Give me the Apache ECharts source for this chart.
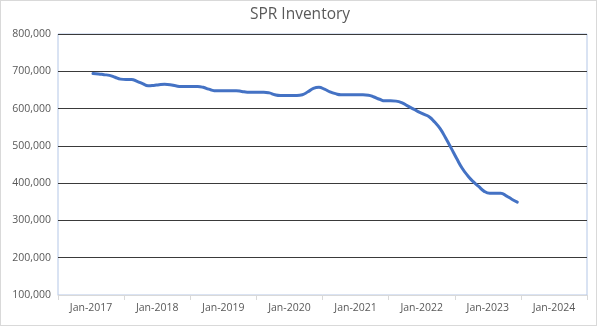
<!DOCTYPE html>
<html>
<head>
<meta charset="utf-8">
<script src="https://cdn.jsdelivr.net/npm/echarts@6/dist/echarts.min.js"></script>
<style>
html,body{margin:0;padding:0;background:#fff;}
#frame{position:absolute;left:0;top:0;width:597px;height:326px;border:1px solid #d9d9d9;box-sizing:border-box;pointer-events:none;z-index:2;}
#c{position:absolute;left:0;top:0;width:600px;height:327px;}
</style>
</head>
<body>
<div id="c"></div>
<div id="frame"></div>
<script>
const title = 'SPR Inventory';
const yearLabels = ['Jan-2017','Jan-2018','Jan-2019','Jan-2020','Jan-2021','Jan-2022','Jan-2023','Jan-2024'];
const yTicks = [100000, 800000, 100000]; // min, max, step
const months = [
 '2017-01','2017-02','2017-03','2017-04','2017-05','2017-06','2017-07','2017-08','2017-09','2017-10','2017-11','2017-12',
 '2018-01','2018-02','2018-03','2018-04','2018-05','2018-06','2018-07','2018-08','2018-09','2018-10','2018-11','2018-12',
 '2019-01','2019-02','2019-03','2019-04','2019-05','2019-06','2019-07','2019-08','2019-09','2019-10','2019-11','2019-12',
 '2020-01','2020-02','2020-03','2020-04','2020-05','2020-06','2020-07','2020-08','2020-09','2020-10','2020-11','2020-12',
 '2021-01','2021-02','2021-03','2021-04','2021-05','2021-06','2021-07','2021-08','2021-09','2021-10','2021-11','2021-12',
 '2022-01','2022-02','2022-03','2022-04','2022-05','2022-06','2022-07','2022-08','2022-09','2022-10','2022-11','2022-12',
 '2023-01','2023-02','2023-03','2023-04','2023-05','2023-06'
];
const inventory = [
 694000,693000,691000,689000,684000,679000,678000,678000,673000,667000,661000,662000,
 664000,665000,664000,661000,659000,659000,659000,659000,657000,652000,648000,648000,
 648000,648000,648000,646000,644000,644000,644000,644000,642000,637000,635000,635000,
 635000,635000,637000,645000,654000,657000,652000,645000,640000,637000,637000,637000,
 637000,637000,636000,631000,625000,621000,621000,620000,616000,608000,600000,592000,
 585000,578000,564000,546000,521000,494000,466000,440000,420000,404000,391000,378000,
 373000,373000,373000,366000,357000,349000
];

const seriesData = months.map((m, i) => {
  const [y, mo] = m.split('-').map(Number);
  return [(y - 2017) * 12 + (mo - 1), inventory[i]];
});

const font = '"Open Sans", "Noto Sans", sans-serif';
const chart = echarts.init(document.getElementById('c'), null, {renderer: 'canvas'});
chart.setOption({
  animation: false,
  backgroundColor: '#fff',
  title: {
    text: title, left: 'center', top: 2,
    textStyle: {fontFamily: font, fontSize: 15.5, fontWeight: 'normal', color: '#595959'}
  },
  grid: {left: 58, right: 13, top: 34, bottom: 32, show: true, borderColor: '#b4c7e7', borderWidth: 1},
  xAxis: [
    {
      type: 'category', data: yearLabels, boundaryGap: true, position: 'bottom',
      axisLine: {show: true, lineStyle: {color: '#d9d9d9', width: 1}},
      axisTick: {show: true, length: 5, lineStyle: {color: '#d9d9d9'}},
      axisLabel: {fontFamily: font, fontSize: 10.5, color: '#595959', margin: 8},
      splitLine: {show: false}
    },
    {
      type: 'value', min: -6.35, max: 89.65, show: false
    }
  ],
  yAxis: {
    type: 'value', min: yTicks[0], max: yTicks[1], interval: yTicks[2],
    axisLine: {show: false}, axisTick: {show: false},
    axisLabel: {
      fontFamily: font, fontSize: 10.5, color: '#595959', margin: 7,
      formatter: v => v.toLocaleString('en-US')
    },
    splitLine: {show: true, lineStyle: {color: '#3a3a3a', width: 1.2}}
  },
  series: [{
    type: 'line', xAxisIndex: 1, data: seriesData,
    showSymbol: false, smooth: 0.5,
    lineStyle: {color: '#4472C4', width: 3, cap: 'round', join: 'round'}
  }]
});
</script>
</body>
</html>
